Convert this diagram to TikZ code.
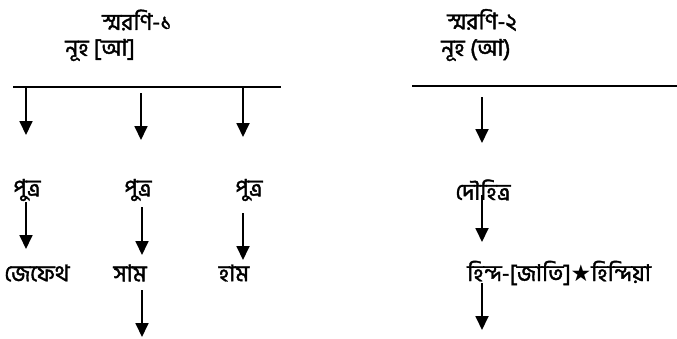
\documentclass[tikz,border=0pt]{standalone}
\usepackage{fontspec}
\newfontfamily\bangla[Script=Bengali,FakeBold=1.6]{Hind Siliguri}
\newfontfamily\symfont{DejaVu Sans}
\usetikzlibrary{arrows.meta}

\begin{document}
\begin{tikzpicture}[x=1pt,y=-1pt,
    every node/.style={font=\bangla\fontsize{23}{26}\selectfont, inner sep=0pt},
    >={Triangle[width=13pt,length=14pt]},
    link/.style={->, line width=1.8pt},
    bar/.style={line width=1.5pt}]
  \useasboundingbox (0,0) rectangle (677,338);

      % left tree
      \node (S1) at (137,20) {স্মরণি-১};
      \node (N1) at (100,50) {নূহ [আ]};
      \coordinate (L1a) at (13,87);
      \coordinate (L1b) at (281,87);
      \coordinate (T1) at (26,87);
      \coordinate (T2) at (141,93);
      \coordinate (T3) at (243,87);

      \node (P1) at (27,190) {পুত্র};
      \node (P2) at (138,190) {পুত্র};
      \node (P3) at (249,190) {পুত্র};

      \node (J1) at (37,273) {জেফেথ};
      \node (Sa1) at (130,273) {সাম};
      \node (H1) at (234,273) {হাম};
      \coordinate (E1) at (142,337);

      % right tree
      \node (S2) at (482,20) {স্মরণি-২};
      \node (N2) at (476,50) {নূহ (আ)};
      \coordinate (L2a) at (412,86);
      \coordinate (L2b) at (677,86);
      \coordinate (T4) at (482,97);
      \node (D1) at (483,190) {দৌহিত্র};
      \node[anchor=west] (Hi1) at (467,273) {হিন্দ-[জাতি]{\symfont★}হিন্দিয়া};
      \coordinate (E2) at (482,330);

      \draw [bar] (L1a) to (L1b);
      \draw [bar] (L2a) to (L2b);

      \draw [link] (T1) to ([yshift=55pt]P1.center -| T1);
      \draw [link] (T2) to ([yshift=50pt]P2.center -| T2);
      \draw [link] (T3) to ([yshift=53pt]P3.center -| T3);
      \draw [link] ([yshift=-12pt]P1.center -| T1) to ([yshift=24pt]J1.center -| T1);
      \draw [link] ([yshift=-17pt]P2.center -| E1) to ([yshift=18pt]Sa1.center -| E1);
      \draw [link] ([yshift=-23pt]P3.center -| T3) to ([yshift=13pt]H1.center -| T3);
      \draw [link] ([yshift=-17pt]Sa1.center -| E1) to (E1);

      \draw [link] (T4) to ([yshift=47pt]D1.center -| T4);
      \draw [link] ([yshift=-5pt]D1.center -| T4) to ([yshift=31pt]Hi1.center -| T4);
      \draw [link] ([yshift=-10pt]Hi1.center -| T4) to (E2);
  \end{tikzpicture}
\end{document}
